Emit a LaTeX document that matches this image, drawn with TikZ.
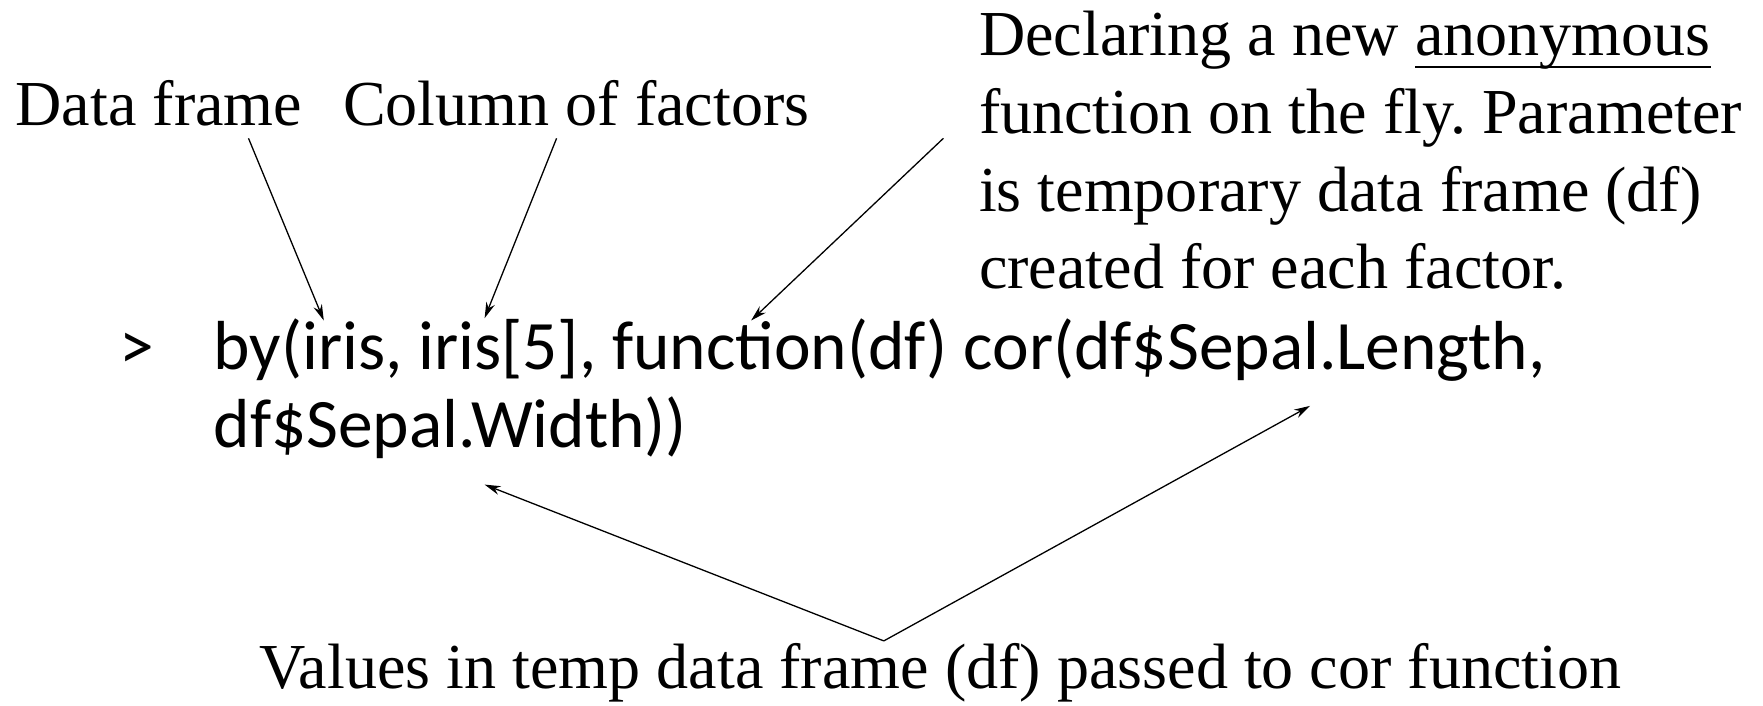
\documentclass[tikz,border=0pt]{standalone}
\usepackage{fontspec}
\setmainfont{Liberation Serif}
\newfontfamily\codefont{Carlito}
\usetikzlibrary{arrows.meta}
\newcommand\myul[1]{\setbox0\hbox{#1}\rlap{\rule[-12.5pt]{\wd0}{2.6pt}}\box0}
\tikzset{
  lbl/.style={anchor=base west,inner sep=0pt,outer sep=0pt,font=\frenchspacing\fontsize{64.1}{77.6}\selectfont},
  code/.style={anchor=base west,inner sep=0pt,outer sep=0pt,font=\codefont\fontsize{69.4}{78.5}\selectfont},
  arr/.style={line width=1.3pt,-{Stealth[length=16pt,width=9pt]}},
}
\begin{document}
\begin{tikzpicture}[x=1pt,y=-1pt]
\useasboundingbox (0,0) rectangle (1763,706);
\node[lbl] (df) at (15.7,126) {Data frame};
\node[lbl] (col) at (343,126) {Column of factors};
\node[lbl] (d1) at (979,56) {Declaring a new \myul{anonymous}};
\node[lbl] (d2) at (979,133) {function on the fly. Parameter};
\node[lbl] (d3) at (979,211) {is temporary data frame (df)};
\node[lbl] (d4) at (979,288) {created for each factor.};
\node[code] (gt) at (119,369) {>};
\node[code] (c1) at (213.6,369) {by(iris, iris[5], function(df) cor(df\$Sepal.Length,};
\node[code] (c2) at (213.6,447.5) {df\$Sepal.Width))};
\node[lbl] (vals) at (259.7,688) {Values in temp data frame (df) passed to cor function};
\coordinate (s1) at (248.5,138.3);
\coordinate (e1) at (323.8,320.5);
\coordinate (s2) at (556.6,138.3);
\coordinate (e2) at (484.6,318.2);
\coordinate (s3) at (943.4,138.3);
\coordinate (e3) at (751.1,320.5);
\coordinate (apex) at (883.8,640.9);
\coordinate (e4) at (484.6,484.6);
\coordinate (e5) at (1310,405.9);
\draw[arr] (s1) -- (e1);
\draw[arr] (s2) -- (e2);
\draw[arr] (s3) -- (e3);
\draw[arr] (apex) -- (e4);
\draw[arr] (apex) -- (e5);
\end{tikzpicture}
\end{document}
